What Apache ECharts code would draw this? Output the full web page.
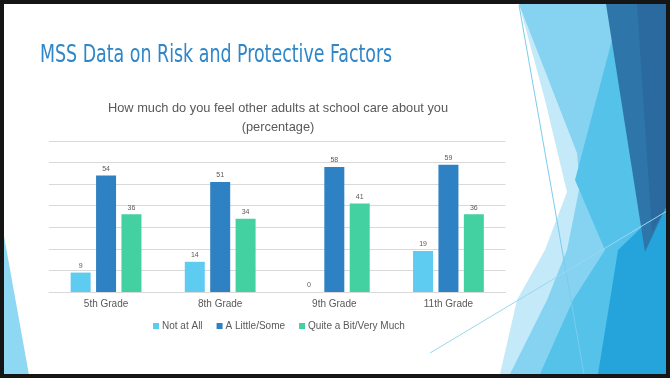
<!DOCTYPE html>
<html><head><meta charset="utf-8">
<script src="https://cdn.jsdelivr.net/npm/echarts@6/dist/echarts.min.js"></script>
<style>html,body{margin:0;padding:0;background:#fff}#c{width:670px;height:378px}</style>
</head><body><div id="c"></div>
<script>
const categories = ['5th Grade', '8th Grade', '9th Grade', '11th Grade'];
const notAtAll = [9, 14, 0, 19];
const aLittleSome = [54, 51, 58, 59];
const quiteABit = [36, 34, 41, 36];
const seriesNames = ['Not at All', 'A Little/Some', 'Quite a Bit/Very Much'];
const colors = ['#5ECBF0', '#2E82C4', '#43D1A1'];

const chart = echarts.init(document.getElementById('c'), null, {renderer: 'canvas'});
const poly = (pts, fill, z) => ({type: 'polygon', shape: {points: pts}, style: {fill: fill}, z: z || 0, silent: true});
const line = (x1, y1, x2, y2, col) => ({type: 'line', shape: {x1, y1, x2, y2}, style: {stroke: col, lineWidth: 1}, z: 1, silent: true});

const lbl = {show: true, position: 'top', distance: 3, fontSize: 7, color: '#595959', fontFamily: 'Liberation Sans, sans-serif'};

chart.setOption({
  animation: false,
  backgroundColor: '#fff',
  title: [
    {text: 'How much do you feel other adults at school care about you\n(percentage)', left: 273, top: 94, textAlign: 'center',
     textStyle: {fontFamily: 'Liberation Sans, sans-serif', fontSize: 12.8, fontWeight: 'normal', color: '#595959', lineHeight: 19}}
  ],
  legend: {
    data: seriesNames, left: 148, top: 316, itemWidth: 6, itemHeight: 6, itemGap: 14, icon: 'rect',
    textStyle: {fontFamily: 'Liberation Sans, sans-serif', fontSize: 10, color: '#595959', padding: [0, 0, 0, -2]}
  },
  grid: {left: 49, right: 164.5, top: 141, bottom: 86},
  xAxis: {
    type: 'category', data: categories,
    axisLine: {lineStyle: {color: '#D9D9D9', width: 1}}, axisTick: {show: false},
    axisLabel: {color: '#595959', fontSize: 10, margin: 7, fontFamily: 'Liberation Sans, sans-serif'}
  },
  yAxis: {
    type: 'value', min: 0, max: 70, interval: 10,
    axisLabel: {show: false}, axisLine: {show: false}, axisTick: {show: false},
    splitLine: {lineStyle: {color: '#D9D9D9', width: 1}}
  },
  series: [
    {name: seriesNames[0], type: 'bar', data: notAtAll, barWidth: 20, barGap: '27%', itemStyle: {color: colors[0]}, label: lbl},
    {name: seriesNames[1], type: 'bar', data: aLittleSome, barWidth: 20, barGap: '27%', itemStyle: {color: colors[1]}, label: lbl},
    {name: seriesNames[2], type: 'bar', data: quiteABit, barWidth: 20, barGap: '27%', itemStyle: {color: colors[2]}, label: lbl}
  ],
  graphic: [
    {type: 'text', x: 40, y: 44, scaleX: 0.807, z: 5, silent: true,
     style: {text: 'MSS Data on Risk and Protective Factors', fontFamily: "'Liberation Sans Narrow', 'DejaVu Sans Condensed', sans-serif",
             fontSize: 24, fill: '#2F86C8', verticalAlign: 'top'}},
    // left-bottom accent
    poly([[4,236],[29,375],[4,375]], '#8ED8F3'),
    // right decoration (layered regions)
    poly([[519,4],[545,100],[567,192],[545,250],[517,300],[500,374],[667,374],[667,4]], '#C4E9F8'),
    poly([[519,4],[577,153],[580,185],[567,250],[547,300],[510,374],[667,374],[667,4]], '#86D2F1'),
    poly([[607,4],[612,40],[575,180],[590,215],[605,250],[573,300],[540,374],[667,374],[667,4]], '#55C2EA'),
    poly([[667,203],[618,250],[610,300],[598,374],[667,374]], '#25A4DB'),
    poly([[606,4],[667,4],[667,205],[645,252]], '#2E76A9'),
    poly([[637,4],[667,4],[667,205],[652,232]], '#2A6A9F'),
    line(519,5,584,374,'#7CCBEE'),
    line(430,353,667,211,'#9AD7F1'),
    // frame
    {type: 'rect', shape: {x: 2, y: 2, width: 666, height: 374}, style: {fill: 'none', stroke: '#151515', lineWidth: 4}, z: 10, silent: true}
  ]
});
</script></body></html>
